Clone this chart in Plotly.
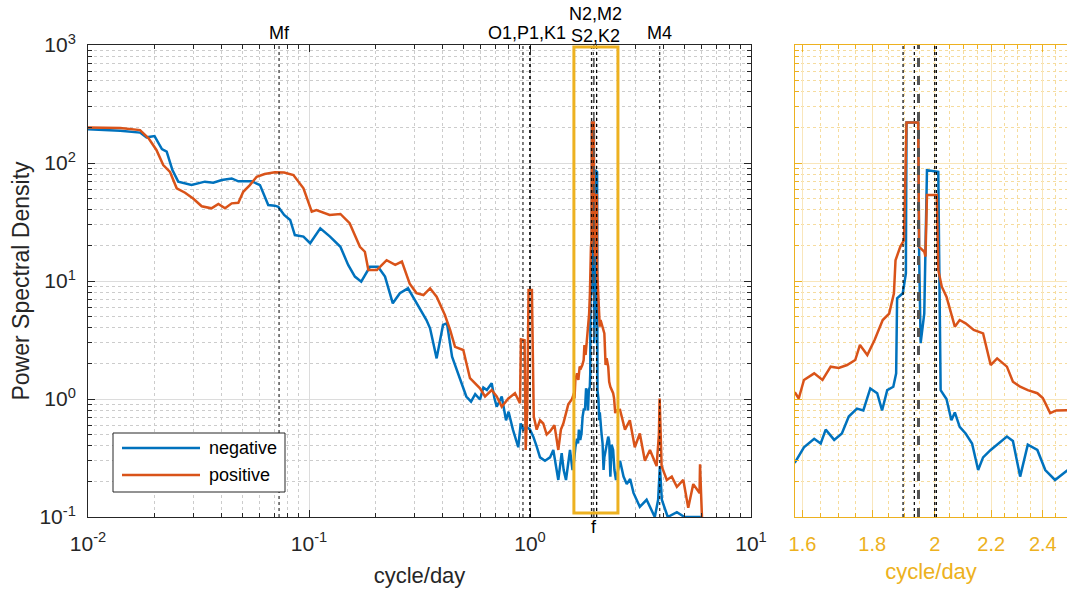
import math
import plotly.graph_objects as go

# ---------------- data ----------------
series_names = ["negative", "positive"]
series_colors = ["#0072BD", "#D95319"]

freq_neg = [0.0100, 0.0140, 0.0172, 0.0184, 0.0200, 0.0216, 0.0227, 0.0241, 0.0256, 0.0294,
            0.0338, 0.0369, 0.0403, 0.0447, 0.0479, 0.0551, 0.0600, 0.0654, 0.0700, 0.0726,
            0.0772, 0.0822, 0.0863, 0.0944, 0.1012, 0.1125, 0.1245, 0.1387, 0.1504, 0.1613,
            0.1723, 0.1886, 0.2053, 0.2208, 0.2394, 0.2577, 0.2806, 0.3064, 0.3400, 0.353,
            0.378, 0.404, 0.421, 0.444, 0.472, 0.515, 0.541, 0.565, 0.594, 0.615, 0.638, 0.671,
            0.690, 0.707, 0.745, 0.779, 0.800, 0.837, 0.885, 0.908, 0.933, 0.966, 1.000, 1.035,
            1.070, 1.110, 1.169, 1.232, 1.275, 1.310, 1.343, 1.391, 1.420, 1.455, 1.517, 1.557, 1.581,
            1.604, 1.632, 1.650, 1.664, 1.688, 1.710, 1.730, 1.754, 1.773, 1.794,
            1.815, 1.830, 1.846, 1.865, 1.874, 1.877, 1.895, 1.905, 1.907, 1.945,
            1.948, 1.953, 1.965, 1.969, 1.974, 2.012, 2.018, 2.020, 2.040, 2.057,
            2.069, 2.086, 2.107, 2.130, 2.152, 2.170, 2.198, 2.226, 2.259, 2.282,
            2.310, 2.340, 2.378, 2.410, 2.450, 2.555, 2.650, 2.740, 2.840, 2.940, 3.140, 3.370,
            3.670, 3.800, 3.870, 3.950, 4.200, 4.620, 5.000, 6.000]
psd_neg = [193, 188, 181, 165, 169, 131, 125, 87, 69.5, 65,
           69.5, 68, 71.8, 74, 70, 70, 65, 44, 43.5, 42.6,
           36.3, 32.9, 24.5, 23.8, 20.9, 28, 23.8, 19.5, 13.7, 10.9,
           9.87, 13.2, 13.2, 10.9, 6.47, 7.87, 8.67, 6.47, 4.67, 3.97,
           2.21, 4.24, 4.38, 2.28, 1.65, 1.05, 0.95, 1.10, 0.99, 1.25, 1.19, 1.36,
           1.02, 0.86, 1.05, 0.66, 0.78, 0.55, 0.39, 0.62, 0.55, 0.58, 0.55, 0.48,
           0.40, 0.32, 0.30, 0.32, 0.37, 0.27, 0.206, 0.347, 0.25, 0.206, 0.37, 0.25, 0.294,
           0.39, 0.46, 0.42, 0.55, 0.45, 0.51, 0.71, 0.83, 0.80, 1.23,
           1.12, 0.80, 1.19, 1.27, 1.65, 7.13, 7.87, 11.6, 220, 220,
           17.2, 2.97, 5.3, 17.2, 87, 84, 6.9, 1.19, 1.0, 0.66,
           0.77, 0.58, 0.51, 0.42, 0.25, 0.32, 0.37, 0.42, 0.48, 0.44,
           0.22, 0.41, 0.37, 0.25, 0.206, 0.30, 0.22, 0.19, 0.21, 0.16, 0.122, 0.14,
           0.10, 0.14, 0.27, 0.14, 0.10, 0.11, 0.10, 0.10]

freq_pos = [0.0100, 0.0140, 0.0172, 0.0188, 0.0204, 0.0219, 0.0235, 0.0252, 0.0275, 0.0299,
            0.0327, 0.0362, 0.0389, 0.0417, 0.0447, 0.0479, 0.0504, 0.0540, 0.0580, 0.0630,
            0.0700, 0.0772, 0.0850, 0.0944, 0.1029, 0.1080, 0.1240, 0.1387, 0.1527, 0.1700,
            0.1790, 0.1856, 0.2029, 0.2245, 0.2456, 0.2632, 0.2855, 0.3064, 0.3295, 0.353,
            0.378, 0.412, 0.435, 0.458, 0.499, 0.535, 0.594, 0.626, 0.671, 0.707,
            0.745, 0.798, 0.855, 0.901, 0.910, 0.945, 0.956, 0.972, 0.985, 1.020,
            1.040, 1.072, 1.110, 1.148, 1.190, 1.232, 1.290, 1.343, 1.380, 1.415, 1.490, 1.550, 1.581, 1.590,
            1.604, 1.632, 1.655, 1.678, 1.701, 1.725, 1.749, 1.763, 1.785, 1.807,
            1.832, 1.852, 1.867, 1.872, 1.887, 1.899, 1.907, 1.945, 1.948, 1.965,
            1.969, 1.974, 2.007, 2.012, 2.024, 2.040, 2.052, 2.069, 2.086, 2.107,
            2.136, 2.170, 2.198, 2.222, 2.259, 2.282, 2.310, 2.340, 2.378, 2.400,
            2.430, 2.455, 2.555, 2.690, 2.830, 2.980, 3.140, 3.310, 3.490, 3.740,
            3.830, 3.860, 3.890, 3.940, 4.160, 4.380, 4.620, 4.940, 5.200, 5.480,
            5.850, 5.880, 5.950, 6.000]
psd_pos = [200, 198, 190, 162, 129, 96, 84, 61, 56, 50,
           43, 41.3, 45, 41.3, 45.5, 46, 57, 65, 76.5, 80.7,
           83.4, 83, 79, 61, 38.7, 40, 36.3, 37, 30.9, 19.5,
           17.7, 12.4, 12.4, 15, 13.7, 14.6, 9.5, 7.9, 7.6, 8.67,
           7.37, 5.15, 3.85, 2.77, 2.6, 1.5, 1.23, 1.05, 1.19, 1.05,
           0.86, 1.01, 1.12, 0.92, 3.2, 3.15, 0.37, 0.81, 8.4, 8.4,
           0.71, 0.55, 0.66, 0.62, 0.50, 0.53, 0.60, 0.37, 0.55, 0.62, 0.90, 1.0, 1.12, 1.01,
           1.45, 1.65, 1.45, 1.88, 1.83, 1.94, 2.14, 2.87, 2.36, 3.16,
           4.67, 5.3, 7.87, 15, 19.5, 22.2, 220, 220, 19.5, 17.7,
           16.1, 53.6, 53.6, 12.4, 8.95, 7.37, 5.87, 4.1, 4.67, 4.38,
           3.85, 3.6, 1.94, 2.21, 1.88, 1.40, 1.27, 1.19, 1.12, 1.02,
           0.76, 0.80, 0.81, 0.55, 0.66, 0.39, 0.51, 0.30, 0.37, 0.27,
           0.50, 1.01, 0.50, 0.27, 0.206, 0.22, 0.18, 0.206, 0.12, 0.19,
           0.16, 0.28, 0.15, 0.10]

tide_names = ["Mf", "O1", "P1", "K1", "N2", "M2", "S2", "K2", "M4"]
tide_freqs = [0.0732, 0.9295, 0.9973, 1.0027, 1.8960, 1.9323, 2.0000, 2.0055, 3.8645]
inertial_f = 1.946
zoom_x = [1.58, 2.5]
zoom_box_y = [0.108, 960]

x_tick_vals = [0.01, 0.1, 1, 10]
x_tick_text = ["10<sup>-2</sup>", "10<sup>-1</sup>", "10<sup>0</sup>", "10<sup>1</sup>"]
y_tick_vals = [0.1, 1, 10, 100, 1000]
y_tick_text = ["10<sup>-1</sup>", "10<sup>0</sup>", "10<sup>1</sup>", "10<sup>2</sup>", "10<sup>3</sup>"]
zoom_tick_vals = [1.6, 1.8, 2.0, 2.2, 2.4]
zoom_tick_text = ["1.6", "1.8", "2", "2.2", "2.4"]

# ---------------- styling ----------------
FONT = "Liberation Sans, Arial, sans-serif"
AX = "#262626"
YEL = "#EDB120"

minor_log_x = [m * 10 ** k for k in range(-2, 1) for m in range(2, 10)]
minor_log_y = [m * 10 ** k for k in range(-1, 3) for m in range(2, 10)]
minor_zoom_x = [round(1.55 + 0.05 * i, 2) for i in range(0, 20)]
minor_zoom_x = [v for v in minor_zoom_x if v not in zoom_tick_vals]

fig = go.Figure()
for xa, ya in [("x", "y"), ("x2", "y2")]:
    for xs, ys, name, col in [(freq_neg, psd_neg, series_names[0], series_colors[0]),
                              (freq_pos, psd_pos, series_names[1], series_colors[1])]:
        fig.add_trace(go.Scatter(x=xs, y=ys, mode="lines", name=name,
                                 line=dict(color=col, width=2.5), showlegend=False,
                                 xaxis=xa, yaxis=ya))

dom_main_x = [88 / 1067, 751 / 1067]
dom_zoom_x = [795 / 1067, 1.0]
dom_y = [1 - 517 / 592, 1 - 45 / 592]

common = dict(type="log", showline=True, linewidth=1, zeroline=False, automargin=False,
              ticks="inside", ticklen=7, tickwidth=1, showgrid=True)

fig.update_layout(
    width=1067, height=592, margin=dict(l=0, r=0, t=0, b=0, autoexpand=False),
    paper_bgcolor="white", plot_bgcolor="white",
    font=dict(family=FONT, color=AX, size=18),
    xaxis=dict(**common, domain=dom_main_x, anchor="y", range=[-2, 1],
               linecolor=AX, tickcolor=AX, mirror="allticks",
               tickvals=x_tick_vals, ticktext=x_tick_text,
               tickfont=dict(size=21, color=AX), ticklabelstandoff=8,
               gridcolor="#dcdcdc",
               minor=dict(tickmode="array", tickvals=minor_log_x, ticks="inside", ticklen=4,
                          tickcolor=AX, showgrid=True, gridcolor="#cccccc", griddash="dot"),
               title=dict(text="cycle/day", font=dict(size=22, color=AX), standoff=13)),
    yaxis=dict(**common, domain=dom_y, anchor="x", range=[-1, 3],
               linecolor=AX, tickcolor=AX, mirror="allticks",
               tickvals=y_tick_vals, ticktext=y_tick_text,
               tickfont=dict(size=21, color=AX), ticklabelstandoff=7,
               gridcolor="#dcdcdc",
               minor=dict(tickmode="array", tickvals=minor_log_y, ticks="inside", ticklen=4,
                          tickcolor=AX, showgrid=True, gridcolor="#cccccc", griddash="dot"),
               title=dict(text="Power Spectral Density", font=dict(size=23, color=AX), standoff=3)),
    xaxis2=dict(**common, domain=dom_zoom_x, anchor="y2",
                range=[math.log10(zoom_x[0]), math.log10(zoom_x[1])],
                linecolor=YEL, tickcolor=YEL, mirror="allticks",
                tickvals=zoom_tick_vals, ticktext=zoom_tick_text,
                tickfont=dict(size=20, color=YEL), ticklabelstandoff=9,
                gridcolor="#f9e6bb",
                minor=dict(tickmode="array", tickvals=minor_zoom_x, ticks="inside", ticklen=4,
                           tickcolor=YEL, showgrid=True, gridcolor="#f6dc9e", griddash="dot"),
                title=dict(text="cycle/day", font=dict(size=22, color=YEL), standoff=9)),
    yaxis2=dict(**common, domain=dom_y, anchor="x2", range=[-1, 3],
                linecolor=YEL, tickcolor=YEL, mirror=False,
                tickvals=y_tick_vals, showticklabels=False,
                gridcolor="#f9e6bb",
                minor=dict(tickmode="array", tickvals=minor_log_y, ticks="inside", ticklen=4,
                           tickcolor=YEL, showgrid=True, gridcolor="#f6dc9e", griddash="dot")),
)

# constituent lines
for name, f in zip(tide_names, tide_freqs):
    fig.add_shape(type="line", xref="x", yref="y domain", x0=f, x1=f, y0=0, y1=1,
                  line=dict(color="black", width=1, dash="dot"))
    if zoom_x[0] < f < zoom_x[1]:
        fig.add_shape(type="line", xref="x2", yref="y2 domain", x0=f, x1=f, y0=0, y1=1,
                      line=dict(color="black", width=1.2, dash="dot"))
fig.add_shape(type="line", xref="x", yref="y domain", x0=inertial_f, x1=inertial_f, y0=0, y1=1,
              line=dict(color="#555555", width=1.5, dash="dash"))
fig.add_shape(type="line", xref="x2", yref="y2 domain", x0=inertial_f, x1=inertial_f, y0=0, y1=1,
              line=dict(color="#555555", width=3, dash="dash"))

# zoom box
fig.add_shape(type="rect", xref="x", yref="y", x0=zoom_x[0], x1=zoom_x[1],
              y0=zoom_box_y[0], y1=zoom_box_y[1], line=dict(color=YEL, width=3))

# labels above
lab = dict(showarrow=False, font=dict(size=18, color="black"), yref="paper", xref="x",
           xanchor="center", yanchor="middle")
fig.add_annotation(text="Mf", x=math.log10(tide_freqs[0]), y=1 - 33 / 592, **lab)
fig.add_annotation(text="O1,P1,K1", x=math.log10((tide_freqs[1] + tide_freqs[3]) / 2), y=1 - 33 / 592, **lab)
fig.add_annotation(text="N2,M2", x=math.log10((tide_freqs[4] + tide_freqs[7]) / 2) + 0.006, y=1 - 14 / 592, **lab)
fig.add_annotation(text="S2,K2", x=math.log10((tide_freqs[4] + tide_freqs[7]) / 2) + 0.006, y=1 - 36 / 592, **lab)
fig.add_annotation(text="M4", x=math.log10(tide_freqs[8]), y=1 - 33 / 592, **lab)
fig.add_annotation(text="f", x=math.log10(inertial_f), y=1 - 527 / 592, **lab)

# legend (drawn box)
fig.add_shape(type="rect", xref="paper", yref="paper", x0=113 / 1067, x1=285 / 1067,
              y0=1 - 492 / 592, y1=1 - 433 / 592, line=dict(color=AX, width=1), fillcolor="white")
for i, (name, col) in enumerate(zip(series_names, series_colors)):
    yy = 1 - (448 + 27 * i) / 592
    fig.add_shape(type="line", xref="paper", yref="paper", x0=122 / 1067, x1=200 / 1067,
                  y0=yy, y1=yy, line=dict(color=col, width=2.5))
    fig.add_annotation(text=name, xref="paper", yref="paper", x=207 / 1067, y=yy,
                       xanchor="left", yanchor="middle", showarrow=False,
                       font=dict(size=18, color="black"))

fig.write_html("out.html")
